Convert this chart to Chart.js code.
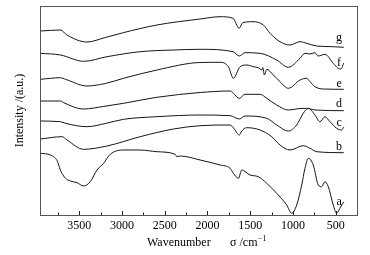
<!DOCTYPE html>
<html>
<head>
<meta charset="utf-8">
<script src="https://cdn.jsdelivr.net/npm/chart.js@4/dist/chart.umd.min.js"></script>
<style>
html, body { margin: 0; padding: 0; background: #fff; }
#wrap { width: 370px; height: 255px; }
</style>
</head>
<body>
<div id="wrap"><canvas id="ftir"></canvas></div>
<script>
// FTIR spectra a-g, intensity offset per curve (a.u.)
var curveNames = ['a', 'b', 'c', 'd', 'e', 'f', 'g'];
var xTicks = [3500, 3000, 2500, 2000, 1500, 1000, 500];
var xMinor = [3750, 3250, 2750, 2250, 1750, 1250, 750];

var wn_a  = [3955, 3840, 3760, 3722, 3683, 3663, 3605, 3527, 3450, 3372, 3293, 3216, 3138, 2982, 2787, 2592, 2378, 2358, 2320, 2086, 1853, 1735, 1697, 1638, 1599, 1502, 1405, 1306, 1190, 1073, 1014, 956, 897, 859, 820, 762, 703, 664, 625, 586, 528, 488, 450, 405];
var int_a = [61.7, 60, 54.3, 45, 39, 36.7, 34, 32.3, 29, 33.3, 45, 51.7, 60.7, 65, 65, 63.3, 60.7, 58.3, 59, 55, 50, 46.7, 41.7, 36.7, 45, 40, 38.3, 31.7, 21.7, 10, 1.7, 10, 30, 46.7, 56.7, 50, 30, 28.3, 33.3, 28.3, 10, 1.7, 6.7, 13.3];

var wn_b  = [3955, 3702, 3644, 3450, 3176, 2788, 2398, 2086, 1735, 1697, 1627, 1599, 1540, 1385, 1248, 1151, 1034, 879, 800, 722, 405];
var int_b = [76, 78.3, 75, 65.7, 69, 78.3, 86, 89.3, 90, 87.3, 80, 84, 87.3, 85, 78.3, 70, 65, 69.3, 66.7, 63.3, 62.3];

var wn_c  = [3955, 3720, 3662, 3410, 3196, 2982, 2592, 2086, 1735, 1627, 1560, 1306, 1190, 1054, 956, 879, 820, 742, 683, 625, 567, 488, 430, 405];
var int_c = [94, 93.3, 91.7, 88.3, 91.5, 95.7, 98.3, 100, 99.3, 96, 99, 96.7, 90, 84, 90, 101.7, 106.7, 100, 93.3, 98.3, 93.3, 86.7, 85, 88.3];

var wn_d  = [3955, 3720, 3683, 3450, 3220, 2982, 2592, 2086, 1735, 1627, 1560, 1385, 1306, 1190, 1054, 917, 839, 742, 405];
var int_d = [114, 114, 112.3, 106, 108.5, 111.7, 117.7, 122.5, 124, 116.7, 120.7, 120.7, 116.7, 110, 105, 106.5, 106.7, 105, 104.3];

var wn_e  = [3955, 3720, 3662, 3410, 3196, 2982, 2592, 2086, 1853, 1755, 1697, 1618, 1540, 1463, 1405, 1365, 1353, 1334, 1306, 1229, 1151, 1054, 917, 839, 800, 742, 645, 405];
var int_e = [135.7, 137.3, 135.7, 129, 131.5, 136.7, 145, 152.5, 152.7, 148.3, 136.7, 148.3, 150, 148.3, 147.3, 145, 147.5, 140, 145.7, 140, 133.3, 126.7, 135, 136.7, 133.3, 128.3, 126, 125.7];

var wn_f  = [3955, 3720, 3450, 3176, 2788, 2401, 2086, 1700, 1627, 1560, 1385, 1190, 1054, 917, 859, 800, 742, 707, 625, 528, 470, 438, 405];
var int_f = [161.7, 160, 153.7, 158.3, 163.3, 165, 165.7, 163.3, 159, 162.3, 161.7, 155, 147.7, 156.7, 161.7, 161, 162.3, 159, 160.7, 151.7, 146.7, 146, 152];

var wn_g  = [3955, 3720, 3645, 3410, 3196, 2986, 2592, 2086, 1853, 1700, 1630, 1587, 1467, 1346, 1268, 1151, 1034, 917, 839, 722, 528, 405];
var int_g = [184, 185, 180, 173, 177.5, 182.3, 190, 196, 198.3, 196.7, 186.7, 192.3, 193.3, 190, 181.7, 173.3, 170, 173.3, 171.7, 169, 168.3, 167.7];

// where each curve letter sits (baseline, in intensity units) at 460 cm-1
var labelWn = 460;
var labelLevels = [10, 65, 89, 108.5, 128, 149, 174];

var allWn = [wn_a, wn_b, wn_c, wn_d, wn_e, wn_f, wn_g];
var allInt = [int_a, int_b, int_c, int_d, int_e, int_f, int_g];

var datasets = [];
for (var i in curveNames) {
	var pts = [];
	for (var k = 0; k < allWn[i].length; k++) {
		pts.push({x: allWn[i][k], y: allInt[i][k]});
	}
	datasets.push({
		label: curveNames[i],
		data: pts,
		borderColor: '#151515',
		borderWidth: 1,
		pointRadius: 0,
		fill: false,
		cubicInterpolationMode: 'monotone'
	});
}

var serif = '"Liberation Serif", "Times New Roman", serif';

var framePlugin = {
	id: 'frame',
	afterDatasetsDraw: function(chart) {
		var ctx = chart.ctx;
		var a = chart.chartArea;
		var xs = chart.scales.x;
		var ys = chart.scales.y;
		ctx.save();
		ctx.strokeStyle = '#555';
		ctx.lineWidth = 1;
		ctx.strokeRect(Math.round(a.left) + 0.5, Math.round(a.top) + 0.5, Math.round(a.right - a.left), Math.round(a.bottom - a.top));
		// inward ticks
		ctx.strokeStyle = '#222';
		ctx.beginPath();
		xTicks.forEach(function(v) {
			var px = Math.round(xs.getPixelForValue(v)) + 0.5;
			ctx.moveTo(px, a.bottom);
			ctx.lineTo(px, a.bottom - 4);
		});
		xMinor.forEach(function(v) {
			var px = Math.round(xs.getPixelForValue(v)) + 0.5;
			ctx.moveTo(px, a.bottom);
			ctx.lineTo(px, a.bottom - 2.5);
		});
		ctx.stroke();
		// curve letters
		ctx.fillStyle = '#000';
		ctx.font = '12px ' + serif;
		ctx.textAlign = 'center';
		ctx.textBaseline = 'alphabetic';
		for (var i in curveNames) {
			ctx.fillText(curveNames[i], xs.getPixelForValue(labelWn), ys.getPixelForValue(labelLevels[i]));
		}
		// x axis title
		ctx.textAlign = 'left';
		ctx.fillText('Wavenumber', 147, 246);
		ctx.fillText('\u03C3 /cm', 230, 246);
		var w = ctx.measureText('\u03C3 /cm').width;
		ctx.font = '8px ' + serif;
		ctx.fillText('\u22121', 230 + w + 0.5, 241);
		ctx.restore();
	}
};

var ctx = document.getElementById('ftir');
var chart = new Chart(ctx, {
	type: 'line',
	data: {datasets: datasets},
	options: {
		responsive: true,
		maintainAspectRatio: false,
		animation: false,
		devicePixelRatio: 1,
		layout: {padding: {top: 6, right: 13, left: 0, bottom: 0}},
		plugins: {legend: {display: false}, tooltip: {enabled: false}},
		scales: {
			x: {
				type: 'linear',
				reverse: true,
				min: 250,
				max: 3960,
				grid: {display: false, drawTicks: false},
				border: {display: false},
				ticks: {
					color: '#000',
					font: {family: serif, size: 12},
					padding: 4,
					maxRotation: 0,
					callback: function(v) { return String(v); }
				},
				afterBuildTicks: function(scale) {
					scale.ticks = xTicks.map(function(v) { return {value: v}; });
				},
				afterFit: function(scale) { scale.height = 40; }
			},
			y: {
				min: 0,
				max: 209,
				grid: {display: false, drawTicks: false},
				border: {display: false},
				ticks: {display: false},
				title: {display: true, text: 'Intensity /(a.u.)', color: '#000', font: {family: serif, size: 12}, padding: {top: 13, bottom: 0}},
				afterFit: function(scale) { scale.width = 40; }
			}
		}
	},
	plugins: [framePlugin]
});
</script>
</body>
</html>
